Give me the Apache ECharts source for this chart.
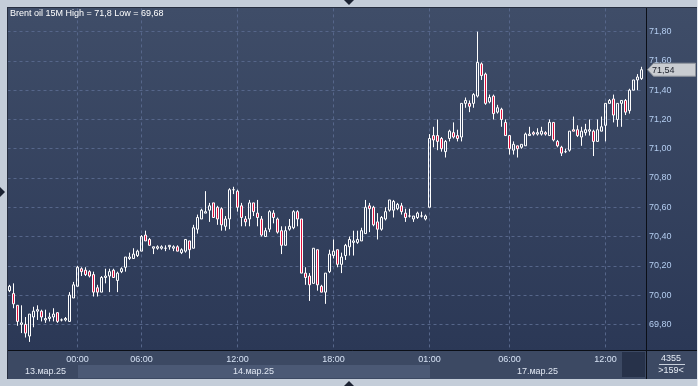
<!DOCTYPE html>
<html><head><meta charset="utf-8">
<script src="https://cdn.jsdelivr.net/npm/echarts@6/dist/echarts.min.js"></script>
<style>html,body{margin:0;padding:0;background:#c4cdd9;overflow:hidden}#c{width:698px;height:386px}</style>
</head><body><div id="c"></div><script>
const categories = [
'13.03 19:45','13.03 20:00','13.03 20:15','13.03 20:30','13.03 20:45','13.03 21:00','13.03 21:15','13.03 21:30','13.03 21:45',
'13.03 22:00','13.03 22:15','13.03 22:30','13.03 22:45','13.03 23:00','13.03 23:15','13.03 23:30','13.03 23:45',
'14.03 02:00','14.03 02:15','14.03 02:30','14.03 02:45','14.03 03:00','14.03 03:15','14.03 03:30','14.03 03:45',
'14.03 04:00','14.03 04:15','14.03 04:30','14.03 04:45','14.03 05:00','14.03 05:15','14.03 05:30','14.03 05:45',
'14.03 06:00','14.03 06:15','14.03 06:30','14.03 06:45','14.03 07:00','14.03 07:15','14.03 07:30','14.03 07:45',
'14.03 08:00','14.03 08:15','14.03 08:30','14.03 08:45','14.03 09:00','14.03 09:15','14.03 09:30','14.03 09:45',
'14.03 10:00','14.03 10:15','14.03 10:30','14.03 10:45','14.03 11:00','14.03 11:15','14.03 11:30','14.03 11:45',
'14.03 12:00','14.03 12:15','14.03 12:30','14.03 12:45','14.03 13:00','14.03 13:15','14.03 13:30','14.03 13:45',
'14.03 14:00','14.03 14:15','14.03 14:30','14.03 14:45','14.03 15:00','14.03 15:15','14.03 15:30','14.03 15:45',
'14.03 16:00','14.03 16:15','14.03 16:30','14.03 16:45','14.03 17:00','14.03 17:15','14.03 17:30','14.03 17:45',
'14.03 18:00','14.03 18:15','14.03 18:30','14.03 18:45','14.03 19:00','14.03 19:15','14.03 19:30','14.03 19:45',
'14.03 20:00','14.03 20:15','14.03 20:30','14.03 20:45','14.03 21:00','14.03 21:15','14.03 21:30','14.03 21:45',
'14.03 22:00','14.03 22:15','14.03 22:30','14.03 22:45','14.03 23:00','14.03 23:15','14.03 23:30','14.03 23:45',
'17.03 01:00','17.03 01:15','17.03 01:30','17.03 01:45','17.03 02:00','17.03 02:15','17.03 02:30','17.03 02:45',
'17.03 03:00','17.03 03:15','17.03 03:30','17.03 03:45','17.03 04:00','17.03 04:15','17.03 04:30','17.03 04:45',
'17.03 05:00','17.03 05:15','17.03 05:30','17.03 05:45','17.03 06:00','17.03 06:15','17.03 06:30','17.03 06:45',
'17.03 07:00','17.03 07:15','17.03 07:30','17.03 07:45','17.03 08:00','17.03 08:15','17.03 08:30','17.03 08:45',
'17.03 09:00','17.03 09:15','17.03 09:30','17.03 09:45','17.03 10:00','17.03 10:15','17.03 10:30','17.03 10:45',
'17.03 11:00','17.03 11:15','17.03 11:30','17.03 11:45','17.03 12:00','17.03 12:15','17.03 12:30','17.03 12:45',
'17.03 13:00','17.03 13:15','17.03 13:30','17.03 13:45','17.03 14:00','17.03 14:15'
];
const openV = [
70.03,70.01,69.93,69.80,69.80,69.72,69.85,69.89,69.89,69.83,
69.84,69.85,69.88,69.83,69.83,69.82,69.98,70.06,70.18,70.17,
70.16,70.14,70.05,70.02,70.12,70.13,70.17,70.10,70.16,70.19,
70.25,70.25,70.27,70.30,70.41,70.38,70.32,70.32,70.32,70.32,
70.33,70.32,70.33,70.29,70.30,70.37,70.32,70.45,70.52,70.56,
70.58,70.63,70.60,70.59,70.47,70.52,70.72,70.71,70.61,70.52,
70.52,70.63,70.56,70.52,70.40,70.45,70.56,70.52,70.44,70.34,
70.45,70.46,70.57,70.52,70.15,70.13,70.08,70.31,70.06,70.02,
70.16,70.27,70.31,70.21,70.27,70.33,70.36,70.36,70.37,70.42,
70.61,70.60,70.50,70.45,70.52,70.58,70.58,70.59,70.61,70.56,
70.54,70.52,70.53,70.54,70.52,70.60,71.09,71.09,71.07,70.98,
71.07,71.11,71.09,71.08,71.31,71.31,71.31,71.36,71.58,71.51,
71.32,71.36,71.25,71.27,71.18,71.09,70.99,71.02,71.01,71.02,
71.09,71.11,71.10,71.10,71.11,71.09,71.18,71.05,71.01,70.98,
70.99,71.13,71.13,71.08,71.11,71.12,71.12,71.05,71.12,71.16,
71.31,71.34,71.20,71.31,71.33,71.26,71.40,71.47,71.48
];
const closeV = [
70.06,69.94,69.82,69.81,69.74,69.87,69.89,69.90,69.85,69.84,
69.85,69.87,69.82,69.83,69.84,70.00,70.07,70.19,70.16,70.14,
70.13,70.02,70.02,70.12,70.13,70.16,70.12,70.15,70.18,70.26,
70.26,70.28,70.30,70.40,70.37,70.34,70.33,70.33,70.33,70.32,
70.34,70.33,70.30,70.31,70.38,70.31,70.46,70.53,70.58,70.57,
70.61,70.53,70.52,70.48,70.52,70.72,70.72,70.60,70.53,70.50,
70.63,70.57,70.53,70.41,70.44,70.57,70.53,70.43,70.34,70.44,
70.47,70.57,70.52,70.15,70.12,70.07,70.32,70.07,70.02,70.15,
70.28,70.30,70.21,70.26,70.34,70.38,70.37,70.38,70.44,70.60,
70.59,70.48,70.45,70.53,70.57,70.65,70.64,70.62,70.57,70.53,
70.54,70.54,70.56,70.54,70.54,71.07,71.06,71.05,71.00,71.05,
71.12,71.08,71.07,71.31,71.33,71.29,71.37,71.59,71.50,71.31,
71.35,71.24,71.28,71.20,71.09,71.00,71.03,71.00,71.03,71.10,
71.10,71.10,71.11,71.12,71.10,71.18,71.06,71.02,70.97,70.98,
71.12,71.12,71.09,71.12,71.13,71.13,71.05,71.13,71.15,71.31,
71.33,71.23,71.31,71.33,71.25,71.40,71.47,71.49,71.54
];
const lowV = [
70.02,69.91,69.79,69.74,69.71,69.68,69.78,69.83,69.82,69.81,
69.82,69.82,69.81,69.82,69.82,69.82,69.98,70.06,70.13,70.13,
70.12,69.99,69.99,70.02,70.08,70.02,70.12,70.02,70.15,70.16,
70.24,70.25,70.26,70.30,70.37,70.34,70.28,70.31,70.31,70.30,
70.31,70.30,70.30,70.28,70.29,70.25,70.32,70.42,70.52,70.56,
70.50,70.53,70.48,70.44,70.44,70.45,70.69,70.57,70.47,70.47,
70.47,70.54,70.47,70.40,70.40,70.43,70.49,70.42,70.28,70.34,
70.44,70.45,70.47,70.15,70.07,69.96,70.08,70.03,70.02,69.94,
70.15,70.25,70.19,70.15,70.24,70.27,70.27,70.35,70.37,70.42,
70.43,70.47,70.38,70.44,70.51,70.57,70.53,70.58,70.55,70.50,
70.53,70.50,70.52,70.53,70.51,70.60,71.01,70.99,70.98,70.94,
71.05,71.07,71.05,71.05,71.28,71.25,71.28,71.35,71.47,71.30,
71.31,71.20,71.24,71.15,71.09,70.96,70.96,70.94,71.00,71.02,
71.09,71.09,71.09,71.09,71.09,71.09,71.05,71.01,70.95,70.97,
70.98,71.12,71.08,71.02,71.09,71.09,70.95,71.05,71.12,71.05,
71.31,71.18,71.15,71.15,71.23,71.24,71.40,71.40,71.47
];
const highV = [
70.07,70.08,69.93,69.93,69.85,69.87,69.92,69.93,69.90,69.90,
69.88,69.91,69.88,69.84,69.85,70.02,70.09,70.20,70.19,70.19,
70.17,70.16,70.07,70.13,70.18,70.18,70.18,70.16,70.19,70.26,
70.29,70.32,70.31,70.41,70.44,70.39,70.33,70.34,70.34,70.34,
70.34,70.34,70.34,70.32,70.38,70.37,70.48,70.55,70.59,70.71,
70.63,70.63,70.61,70.60,70.54,70.73,70.74,70.72,70.63,70.54,
70.65,70.63,70.65,70.54,70.46,70.58,70.58,70.53,70.47,70.47,
70.52,70.58,70.58,70.52,70.19,70.15,70.32,70.31,70.07,70.15,
70.31,70.38,70.31,70.29,70.35,70.40,70.44,70.44,70.46,70.65,
70.63,70.61,70.56,70.54,70.60,70.65,70.65,70.63,70.63,70.59,
70.59,70.54,70.57,70.57,70.55,71.10,71.15,71.20,71.08,71.06,
71.13,71.18,71.13,71.31,71.35,71.33,71.38,71.80,71.59,71.52,
71.37,71.37,71.30,71.28,71.20,71.09,71.05,71.02,71.03,71.11,
71.15,71.12,71.14,71.15,71.12,71.20,71.18,71.06,71.02,71.00,
71.12,71.22,71.16,71.15,71.17,71.20,71.13,71.20,71.22,71.31,
71.34,71.37,71.31,71.33,71.34,71.41,71.47,71.51,71.56
];
const timeTickCats = ['14.03 02:00','14.03 06:00','14.03 12:00','14.03 18:00','17.03 01:00','17.03 06:00','17.03 12:00'];
const timeTickLabels = ['00:00','06:00','12:00','18:00','01:00','06:00','12:00'];
const dayKeys = ['13.03','14.03','17.03'];
const dayLabels = ['13.мар.25','14.мар.25','17.мар.25'];
const yMin = 69.6, yMax = 72.0, yStep = 0.2;
const symbolName = 'Brent oil', period = '15M';
const barsTotal = 4355;

const FONT = '"Liberation Sans", Arial, sans-serif';
const GRID = '#56668a';
const fmt2 = v => v.toFixed(2).replace('.', ',');
const hi = Math.max(...highV), lo = Math.min(...lowV);
const titleText = symbolName + ' ' + period + ' High = ' + String(hi).replace('.', ',') + ' Low = ' + String(lo).replace('.', ',');
const candleData = categories.map((c, i) => [openV[i], closeV[i], lowV[i], highV[i]]);
const tickMap = {};
timeTickCats.forEach((c, k) => { tickMap[c] = timeTickLabels[k]; });
const dayMid = {};
const dayRange = {};
dayKeys.forEach((d, k) => {
  const idx = [];
  categories.forEach((c, i) => { if (c.indexOf(d) === 0) idx.push(i); });
  dayRange[d] = [idx[0], idx[idx.length - 1]];
  dayMid[Math.round((idx[0] + idx[idx.length - 1] + 1) / 2)] = dayLabels[k];
});

const chart = echarts.init(document.getElementById('c'), null, {renderer: 'canvas', width: 698, height: 386});
const option = {
  animation: false,
  backgroundColor: '#c4cdd9',
  title: {text: titleText, left: 10, top: 9, padding: 0, z: 70,
    textStyle: {color: '#ffffff', fontSize: 9, fontWeight: 'normal', fontFamily: FONT}},
  grid: {left: 7.5, right: 54.5, top: 2.4, bottom: 32.4, containLabel: false},
  xAxis: [
    {type: 'category', data: categories, boundaryGap: true,
      axisLine: {show: false}, axisTick: {show: false}, axisLabel: {show: false},
      splitLine: {show: true, alignWithLabel: true, interval: (i, v) => (v in tickMap),
        lineStyle: {color: GRID, type: [3, 3], width: 1}}},
    {type: 'category', data: categories, boundaryGap: true, position: 'bottom', z: 60,
      axisLine: {show: false}, axisTick: {show: false}, splitLine: {show: false},
      axisLabel: {interval: (i, v) => (v in tickMap), formatter: v => tickMap[v] || '',
        margin: 1, color: '#d6e2f4', fontSize: 9, fontFamily: FONT}},
    {type: 'category', data: categories, boundaryGap: true, position: 'bottom', z: 60,
      axisLine: {show: false}, axisTick: {show: false}, splitLine: {show: false},
      axisLabel: {interval: (i) => (i in dayMid), formatter: (v, i) => dayMid[i] || '',
        margin: 13, color: '#dfe6f2', fontSize: 9, fontFamily: FONT}}
  ],
  yAxis: {type: 'value', position: 'right', min: yMin, max: yMax, interval: yStep,
    axisLine: {show: false}, axisTick: {show: false},
    splitLine: {show: true, showMinLine: false, showMaxLine: false,
      lineStyle: {color: GRID, type: [3, 3], width: 1}},
    axisLabel: {formatter: v => fmt2(v), margin: 5.5, color: '#b4cdf0', fontSize: 9,
      fontFamily: FONT, showMinLabel: false, showMaxLabel: false}},
  series: [{type: 'candlestick', data: candleData, barWidth: 2, z: 5,
    itemStyle: {color: 'transparent', color0: '#e0103c', borderColor: '#ffffff',
      borderColor0: '#ffffff', borderWidth: 1}}]
};
chart.setOption(option);

const xPix = i => chart.convertToPixel({xAxisIndex: 0}, i);
const yPix = v => chart.convertToPixel({yAxisIndex: 0}, v);
const frame = '#c4cdd9';
const lastClose = closeV[closeV.length - 1];
const py = yPix(lastClose);
const b14 = dayRange['14.03'], b17 = dayRange['17.03'];
const bandX0 = Math.round(xPix(b14[0])), bandX1 = Math.round(xPix(b17[0]));
const tri = '#1b2232';
chart.setOption({graphic: [
  {type: 'rect', z: -100, silent: true, shape: {x: 8, y: 8, width: 689, height: 343},
    style: {fill: new echarts.graphic.LinearGradient(0, 0, 0, 1, [{offset: 0, color: '#3f4d68'}, {offset: 1, color: '#2b3856'}])}},
  {type: 'rect', z: 50, silent: true, shape: {x: 8, y: 351, width: 689, height: 28}, style: {fill: '#3c4963'}},
  {type: 'rect', z: 51, silent: true, shape: {x: bandX0, y: 365, width: bandX1 - bandX0, height: 13}, style: {fill: '#4b5975'}},
  {type: 'rect', z: 51, silent: true, shape: {x: 622, y: 352, width: 23, height: 25}, style: {fill: '#27324a'}},
  {type: 'line', z: 55, silent: true, shape: {x1: 646.5, y1: 8, x2: 646.5, y2: 379}, style: {stroke: '#0b0f17', lineWidth: 1}},
  {type: 'line', z: 55, silent: true, shape: {x1: 8, y1: 350.5, x2: 697, y2: 350.5}, style: {stroke: '#0b0f17', lineWidth: 1}},
  {type: 'text', z: 60, silent: true, style: {x: 671, y: 359, text: String(barsTotal), align: 'center', verticalAlign: 'middle', fill: '#e6ecf5', font: '9px ' + FONT}},
  {type: 'line', z: 60, silent: true, shape: {x1: 659, y1: 364.5, x2: 685, y2: 364.5}, style: {stroke: '#c8d0dc', lineWidth: 1}},
  {type: 'text', z: 60, silent: true, style: {x: 671, y: 371, text: '>' + categories.length + '<', align: 'center', verticalAlign: 'middle', fill: '#e6ecf5', font: '9px ' + FONT}},
  {type: 'rect', z: 90, silent: true, shape: {x: 0, y: 0, width: 698, height: 8}, style: {fill: frame}},
  {type: 'rect', z: 90, silent: true, shape: {x: 0, y: 0, width: 7, height: 386}, style: {fill: frame}},
  {type: 'rect', z: 90, silent: true, shape: {x: 0, y: 379, width: 698, height: 7}, style: {fill: frame}},
  {type: 'rect', z: 90, silent: true, shape: {x: 697, y: 0, width: 1, height: 386}, style: {fill: '#e4e9f0'}},
  {type: 'line', z: 91, silent: true, shape: {x1: 7, y1: 7.5, x2: 697, y2: 7.5}, style: {stroke: '#262e40', lineWidth: 1}},
  {type: 'line', z: 91, silent: true, shape: {x1: 7.5, y1: 7, x2: 7.5, y2: 379}, style: {stroke: '#262e40', lineWidth: 1}},
  {type: 'polygon', z: 95, silent: true, shape: {points: [[344, 0], [354, 0], [349, 5]]}, style: {fill: tri}},
  {type: 'polygon', z: 95, silent: true, shape: {points: [[344, 386], [354, 386], [349, 381]]}, style: {fill: tri}},
  {type: 'polygon', z: 95, silent: true, shape: {points: [[0, 187], [0, 197], [5, 192]]}, style: {fill: tri}},
  {type: 'polygon', z: 96, silent: true, shape: {points: [[647.5, py], [653.5, py - 6.5], [695.5, py - 6.5], [695.5, py + 6.5], [653.5, py + 6.5]]},
    style: {fill: '#c9ccd1', stroke: '#8e949c', lineWidth: 1}},
  {type: 'text', z: 97, silent: true, style: {x: 652, y: py + 0.5, text: fmt2(lastClose), verticalAlign: 'middle', fill: '#1a1f2a', font: '9px ' + FONT}}
]});
</script></body></html>
